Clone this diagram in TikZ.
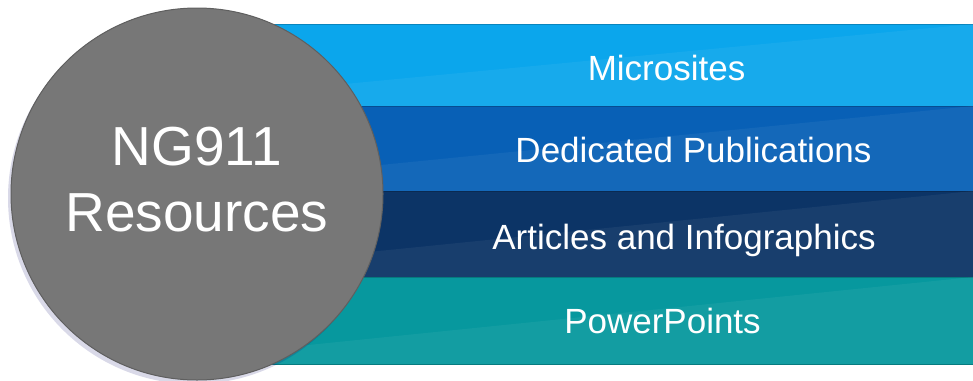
\documentclass[tikz,border=0pt]{standalone}
\usepackage{fontspec}
\setmainfont{Liberation Sans}
\usetikzlibrary{shadows}

\definecolor{microblue}{HTML}{0BA6EC}
\definecolor{pubblue}{HTML}{0860B6}
\definecolor{artnavy}{HTML}{0C3466}
\definecolor{pptteal}{HTML}{07989E}
\definecolor{hubgray}{HTML}{777777}
\definecolor{hubedge}{HTML}{5F5F5F}

\tikzset{
	band/.style={line width=1pt},
	gloss/.style={white, opacity=.05},
	bandtext/.style={white, anchor=base, font=\fontsize{35}{40}\selectfont},
	hubtext/.style={white, align=center, font=\fontsize{55}{66}\selectfont}
}

\begin{document}
\begin{tikzpicture}[x=1pt,y=-1pt]
	\useasboundingbox (0,0) rectangle (973,380);
	\def\radius{186}
	\def\bandleft{240}
	\coordinate (cen) at (197,194);

	% four stacked bands, each with a faint diagonal sheen
	\foreach \top/\bot/\col in {24/106/microblue, 106/191/pubblue, 191/277/artnavy, 277/364/pptteal}{
		\draw[band, fill=\col, draw=\col!80!black] (\bandleft,\top) rectangle (973,\bot);
		\fill[gloss] (\bandleft,\bot-12) -- (973,\top) -- (973,\bot) -- (\bandleft,\bot) -- cycle;
	}

	\coordinate (bandi) at (0,80);
	\coordinate (bandii) at (0,162);
	\coordinate (bandiii) at (0,249);
	\coordinate (bandiv) at (0,333);
	\node[bandtext, xshift=666.5pt] (micro) at (bandi) {Microsites};
	\node[bandtext, xshift=693.5pt] (pub) at (bandii) {Dedicated Publications};
	\node[bandtext, xshift=684pt] (art) at (bandiii) {Articles and Infographics};
	\node[bandtext, xshift=662.5pt] (ppt) at (bandiv) {PowerPoints};

	% hub circle on top of the bands
	\draw[fill=hubgray, draw=hubedge, line width=1pt,
		drop shadow={shadow xshift=-3pt, shadow yshift=-4pt, fill=black!60!blue, opacity=.15}]
		(cen) circle (\radius);
	\node[hubtext, yshift=14pt] (hub) at (cen) {NG911\\Resources};
\end{tikzpicture}
\end{document}
